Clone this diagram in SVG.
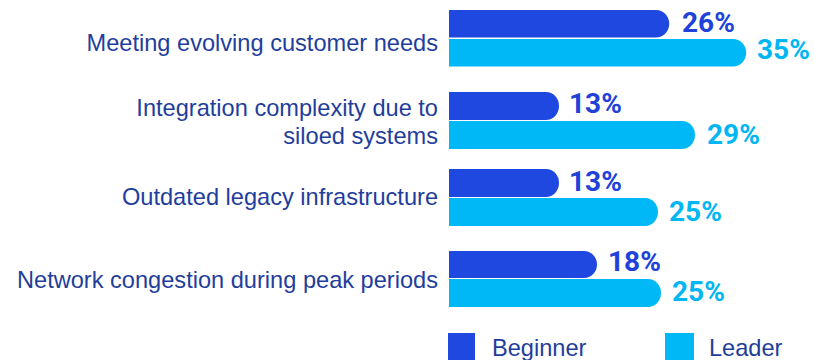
<svg xmlns="http://www.w3.org/2000/svg" width="814" height="360" viewBox="0 0 814 360">
<style>
.cat{font-family:"Liberation Sans",Arial,sans-serif;font-size:23.6px;fill:#1F3E9C;text-anchor:end}
.vb{font-family:Roboto,"Liberation Sans",sans-serif;font-weight:700;font-size:28px;fill:#2042D9}
.vl{font-family:Roboto,"Liberation Sans",sans-serif;font-weight:700;font-size:28px;fill:#00B6F3}
.b{fill:#1F48E0}
.l{fill:#00B8F5}
.leg{font-family:"Liberation Sans",Arial,sans-serif;font-size:23.6px;fill:#1F3E9C}
</style>
<g id="row1">
<text class="cat" x="438" y="51">Meeting evolving customer needs</text>
<path class="b" d="M449,10 H656 A13,13.5 0 0 1 656,37.5 H449 Z"/>
<path class="l" d="M449,39 H733 A13,13.5 0 0 1 733,66.5 H449 Z"/>
<text class="vb" x="682" y="32">26%</text>
<text class="vl" x="757" y="59">35%</text>
</g>
<g id="row2">
<text class="cat" x="438" y="116">Integration complexity due to</text>
<text class="cat" x="438" y="144">siloed systems</text>
<path class="b" d="M449,92 H546 A13,14 0 0 1 546,120 H449 Z"/>
<path class="l" d="M449,121 H682 A13,14 0 0 1 682,149 H449 Z"/>
<text class="vb" x="569" y="113">13%</text>
<text class="vl" x="707" y="144">29%</text>
</g>
<g id="row3">
<text class="cat" x="438" y="205">Outdated legacy infrastructure</text>
<path class="b" d="M449,169 H546 A13,14 0 0 1 546,197 H449 Z"/>
<path class="l" d="M449,198 H645 A13,14 0 0 1 645,226 H449 Z"/>
<text class="vb" x="569" y="191">13%</text>
<text class="vl" x="669" y="221">25%</text>
</g>
<g id="row4">
<text class="cat" x="438" y="288">Network congestion during peak periods</text>
<path class="b" d="M449,251 H584 A13,13.5 0 0 1 584,278 H449 Z"/>
<path class="l" d="M449,279 H648 A13,14 0 0 1 648,307 H449 Z"/>
<text class="vb" x="608" y="271">18%</text>
<text class="vl" x="672" y="301">25%</text>
</g>
<g id="legend">
<rect class="b" x="448" y="333" width="27" height="27"/>
<text class="leg" x="492" y="356">Beginner</text>
<rect class="l" x="665" y="333" width="29" height="27"/>
<text class="leg" x="709" y="356">Leader</text>
</g>
</svg>
